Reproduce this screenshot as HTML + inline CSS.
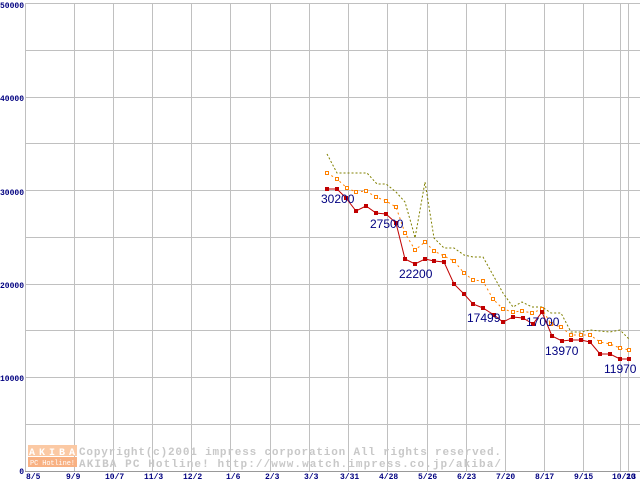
<!DOCTYPE html>
<html><head><style>body{margin:0;background:#fff}svg{display:block}</style></head><body>
<svg width="640" height="480" xmlns="http://www.w3.org/2000/svg" font-family="Liberation Mono, monospace">
<rect width="640" height="480" fill="#fff"/>
<g stroke="#c0c0c0" stroke-width="1">
<line x1="25" y1="3.5" x2="640" y2="3.5"/><line x1="25" y1="50.5" x2="640" y2="50.5"/><line x1="25" y1="97.5" x2="640" y2="97.5"/><line x1="25" y1="143.5" x2="640" y2="143.5"/><line x1="25" y1="190.5" x2="640" y2="190.5"/><line x1="25" y1="237.5" x2="640" y2="237.5"/><line x1="25" y1="284.5" x2="640" y2="284.5"/><line x1="25" y1="330.5" x2="640" y2="330.5"/><line x1="25" y1="377.5" x2="640" y2="377.5"/><line x1="25" y1="424.5" x2="640" y2="424.5"/>
<line x1="25.5" y1="3" x2="25.5" y2="471"/><line x1="74.5" y1="3" x2="74.5" y2="471"/><line x1="113.5" y1="3" x2="113.5" y2="471"/><line x1="152.5" y1="3" x2="152.5" y2="471"/><line x1="191.5" y1="3" x2="191.5" y2="471"/><line x1="230.5" y1="3" x2="230.5" y2="471"/><line x1="270.5" y1="3" x2="270.5" y2="471"/><line x1="309.5" y1="3" x2="309.5" y2="471"/><line x1="348.5" y1="3" x2="348.5" y2="471"/><line x1="387.5" y1="3" x2="387.5" y2="471"/><line x1="427.5" y1="3" x2="427.5" y2="471"/><line x1="466.5" y1="3" x2="466.5" y2="471"/><line x1="505.5" y1="3" x2="505.5" y2="471"/><line x1="544.5" y1="3" x2="544.5" y2="471"/><line x1="583.5" y1="3" x2="583.5" y2="471"/><line x1="620.5" y1="3" x2="620.5" y2="471"/><line x1="628.5" y1="3" x2="628.5" y2="471"/>
</g>
<line x1="25" y1="471.5" x2="640" y2="471.5" stroke="#999"/>
<rect x="28" y="445" width="49" height="11" fill="#fbc9a4"/><rect x="28" y="457" width="49" height="10" fill="#f8b183"/>
<text x="29" y="455" font-size="10" fill="#fff" font-weight="bold" textLength="46">AKIBA</text>
<text x="30" y="465" font-size="7" fill="#fff" textLength="45">PC Hotline!</text>
<g fill="#c8c8c8" font-size="11" font-weight="bold">
<text x="79" y="455" textLength="422" lengthAdjust="spacing">Copyright(c)2001 impress corporation All rights reserved.</text>
<text x="79" y="467" textLength="422" lengthAdjust="spacing">AKIBA PC Hotline!  http://www.watch.impress.co.jp/akiba/</text>
</g>
<g fill="#000080" font-size="8" font-weight="bold" text-anchor="end">
<text x="24" y="8">50000</text><text x="24" y="101">40000</text><text x="24" y="195">30000</text><text x="24" y="288">20000</text><text x="24" y="381">10000</text><text x="24" y="474">0</text>
</g>
<g fill="#000080" font-size="8" font-weight="bold">
<text x="26" y="479">8/5</text><text x="66" y="479">9/9</text><text x="105" y="479">10/7</text><text x="144" y="479">11/3</text><text x="183" y="479">12/2</text><text x="226" y="479">1/6</text><text x="265" y="479">2/3</text><text x="304" y="479">3/3</text><text x="340" y="479">3/31</text><text x="379" y="479">4/28</text><text x="418" y="479">5/26</text><text x="457" y="479">6/23</text><text x="496" y="479">7/20</text><text x="535" y="479">8/17</text><text x="574" y="479">9/15</text><text x="612" y="479">10/13</text><text x="626" y="479">20</text>
</g>
<polyline fill="none" stroke="#808000" stroke-dasharray="2,2" points="327,154 337,173 347,173 357,173 367,173 377,184 386,184 396,192 405,202 413,230 415,238 425,182 434,238 444,248 454,248 464,255 473,257 483,257 503,293 513,307 522,302 532,307 542,307 551,313 561,313 571,332 581,332 590,330 610,332 620,330 629,339"/>
<polyline fill="none" stroke="#ff8000" stroke-dasharray="2,3" points="327,173 337,179 347,188 356,192 366,191 376,197 386,201 396,207 405,233 415,250 425,242 434,251 444,256 454,261 464,273 473,280 483,281 493,299 503,309 513,312 522,311 532,313 542,309 551,324 561,327 571,335 581,335 590,335 600,342 610,344 620,348 629,350"/>
<g fill="#fff" stroke="#ff8000" stroke-width="1">
<path d="M325.5,171.5h3v3h-3zM335.5,177.5h3v3h-3zM345.5,186.5h3v3h-3zM354.5,190.5h3v3h-3zM364.5,189.5h3v3h-3zM374.5,195.5h3v3h-3zM384.5,199.5h3v3h-3zM394.5,205.5h3v3h-3zM403.5,231.5h3v3h-3zM413.5,248.5h3v3h-3zM423.5,240.5h3v3h-3zM432.5,249.5h3v3h-3zM442.5,254.5h3v3h-3zM452.5,259.5h3v3h-3zM462.5,271.5h3v3h-3zM471.5,278.5h3v3h-3zM481.5,279.5h3v3h-3zM491.5,297.5h3v3h-3zM501.5,307.5h3v3h-3zM511.5,310.5h3v3h-3zM520.5,309.5h3v3h-3zM530.5,311.5h3v3h-3zM540.5,307.5h3v3h-3zM549.5,322.5h3v3h-3zM559.5,325.5h3v3h-3zM569.5,333.5h3v3h-3zM579.5,333.5h3v3h-3zM588.5,333.5h3v3h-3zM598.5,340.5h3v3h-3zM608.5,342.5h3v3h-3zM618.5,346.5h3v3h-3zM627.5,348.5h3v3h-3z"/>
</g>
<polyline fill="none" stroke="#c00000" stroke-width="1" points="327,189 337,189 346,198 356,211 366,206 376,213 386,214 396,223 405,259 415,264 425,259 434,261 444,262 454,284 464,294 473,304 483,308 494,315 503,322 513,317 523,318 533,324 542,312 552,336 562,341 571,340 581,340 590,342 600,354 610,354 620,359 629,359"/>
<g fill="#c00000">
<path d="M325,187h4v4h-4zM335,187h4v4h-4zM344,196h4v4h-4zM354,209h4v4h-4zM364,204h4v4h-4zM374,211h4v4h-4zM384,212h4v4h-4zM394,221h4v4h-4zM403,257h4v4h-4zM413,262h4v4h-4zM423,257h4v4h-4zM432,259h4v4h-4zM442,260h4v4h-4zM452,282h4v4h-4zM462,292h4v4h-4zM471,302h4v4h-4zM481,306h4v4h-4zM492,313h4v4h-4zM501,320h4v4h-4zM511,315h4v4h-4zM521,316h4v4h-4zM531,322h4v4h-4zM540,310h4v4h-4zM550,334h4v4h-4zM560,339h4v4h-4zM569,338h4v4h-4zM579,338h4v4h-4zM588,340h4v4h-4zM598,352h4v4h-4zM608,352h4v4h-4zM618,357h4v4h-4zM627,357h4v4h-4z"/>
</g>
<g fill="#000080" font-size="12" font-family="Liberation Sans, sans-serif">
<text x="321" y="203">30200</text><text x="370" y="228">27500</text><text x="399" y="278">22200</text><text x="467" y="322">17499</text><text x="526" y="326">17000</text><text x="545" y="355">13970</text><text x="604" y="373">11970</text>
</g>
</svg>
</body></html>
